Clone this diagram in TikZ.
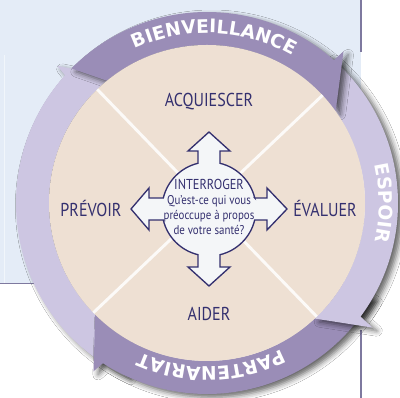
\documentclass[tikz,border=0pt]{standalone}
\usepackage{fontspec}
\usepackage{xcolor}
\usepackage{tikz}
\usetikzlibrary{decorations.text,shadows.blur}

\newfontfamily\phasefont[FakeStretch=0.86]{PT Sans}
\newfontfamily\bandfont{DejaVu Sans}

\definecolor{panelblue}{HTML}{E4ECF7}
\definecolor{bandlight}{HTML}{CDC6E2}
\definecolor{banddark}{HTML}{9A8DB7}
\definecolor{sand}{HTML}{EEE0D3}
\definecolor{navy}{HTML}{34306F}
\definecolor{hubfill}{HTML}{F4F6F8}
\definecolor{rulegrey}{HTML}{7E799F}

\tikzset{
  bandshadow/.style={blur shadow={shadow xshift=3.5pt, shadow yshift=-2.5pt, shadow blur radius=4pt, shadow opacity=60}},
  lightband/.style={fill=bandlight, bandshadow},
  darkband/.style={fill=banddark, bandshadow},
  divider/.style={draw=white!85!sand, line width=2.2pt},
  hub/.style={fill=hubfill, draw=navy, line width=1pt, line join=miter},
  phase/.style={text=navy, font=\phasefont\fontsize{14}{14}\selectfont, anchor=base, inner sep=0pt},
  hubtext/.style={text=navy, font=\phasefont\fontsize{9.5}{11.4}\selectfont, align=center, inner sep=0pt}
}

\begin{document}
\begin{tikzpicture}[x=0.75pt,y=0.75pt]
      \useasboundingbox (0,0) rectangle (400,398);
      \fill[white] (0,0) rectangle (400,398);
      \fill[panelblue] (0,115) rectangle (361,398);
      \draw[rulegrey, line width=0.6pt] (0,115) -- (361,115);
      \draw[white!50!panelblue, line width=0.6pt] (4,115) -- (4,343);
      \draw[rulegrey, line width=0.8pt] (361,346) -- (361,398);
      \draw[rulegrey, line width=0.8pt] (361,0) -- (361,68);

      \begin{scope}[shift={(207,195)}]
      \coordinate (ringcentre) at (0,0);
      \fill[lightband] (245:191) arc[start angle=245, end angle=138, radius=191] -- (137.5:203) -- (127:158) arc[start angle=127, end angle=245, radius=158] -- cycle;
      \fill[darkband] (-30:158) -- (-30:191) arc[start angle=-30, end angle=-123, radius=191] -- (-124:203) -- (-135:158) arc[start angle=-135, end angle=-30, radius=158] -- cycle;
      \fill[lightband] (50:158) -- (50:191) arc[start angle=50, end angle=-36.5, radius=191] -- (-37:207) -- (-47:158) arc[start angle=-47, end angle=50, radius=158] -- cycle;
      \fill[darkband] (129.3:158) -- (135.2:191) arc[start angle=135.2, end angle=48.4, radius=191] -- (48:204) -- (35.5:158) arc[start angle=35.5, end angle=129.3, radius=158] -- cycle;

      \fill[sand] (ringcentre) circle[radius=158];
      \draw[divider] (134:158) -- (-46:158);
      \draw[divider] (43:158) -- (-136:158);

      \path[decorate, decoration={text along path, text align=center,
        text={|\bandfont\bfseries\fontsize{14}{14}\selectfont\color{white}|BIENVEILLANCE}}]
        (122:170) arc[start angle=122, end angle=53, radius=170];
      \path[decorate, decoration={text along path, text align=center,
        text={|\bandfont\bfseries\fontsize{14}{14}\selectfont\color{white}|ESPOIR}}]
        (24:172) arc[start angle=24, end angle=-24, radius=172];
      \path[decorate, decoration={text along path, text align=center,
        text={|\bandfont\bfseries\fontsize{14}{14}\selectfont\color{white}|PARTENARIAT}}]
        (-52:164) arc[start angle=-52, end angle=-125, radius=164];
      \end{scope}

      \begin{scope}[shift={(209,189)}]
      \draw[hub] (45.7,11) -- (58,11) -- (58,21) -- (78,0) -- (58,-21) -- (58,-11) -- (45.7,-11)
        arc[start angle=-13.5, end angle=-76.5, radius=47]
        -- (11,-58) -- (21,-58) -- (0,-77) -- (-21,-58) -- (-11,-58) -- (-11,-45.7)
        arc[start angle=-103.5, end angle=-166.5, radius=47]
        -- (-60,-11) -- (-60,-21) -- (-78,0) -- (-60,21) -- (-60,11) -- (-45.7,11)
        arc[start angle=166.5, end angle=103.5, radius=47]
        -- (-11,58) -- (-21,58) -- (0,77) -- (21,58) -- (11,58) -- (11,45.7)
        arc[start angle=76.5, end angle=13.5, radius=47]
        -- cycle;
      \node[hubtext] (interroger) at (0,2) {{\fontsize{10.8}{12}\selectfont INTERROGER}\\Qu’est-ce qui vous\\préoccupe à propos\\de votre santé?};
      \end{scope}

      \node[phase] (acquiescer) at (209,291) {ACQUIESCER};
      \node[phase] (prevoir) at (91,181) {PRÉVOIR};
      \node[phase] (evaluer) at (325,181) {ÉVALUER};
      \node[phase] (aider) at (209,77) {AIDER};
\end{tikzpicture}
\end{document}
